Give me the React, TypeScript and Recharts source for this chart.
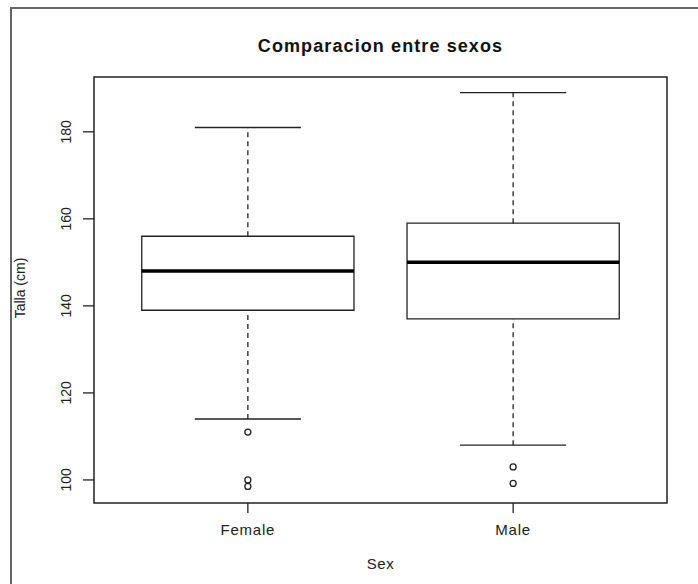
import React from "react";
import { ComposedChart, XAxis, YAxis, Scatter, ReferenceArea, ReferenceLine } from "recharts";

// --- data ---
const categories = ["Female", "Male"];
const whiskerLow = [114, 108];
const q1 = [139, 137];
const median = [148, 150];
const q3 = [156, 159];
const whiskerHigh = [181, 189];
const outliers = [
    [111, 100, 98.5],
    [103, 99.2],
];
const yTicks = [100, 120, 140, 160, 180];

const X_DOMAIN: [number, number] = [0.42, 2.58];
const Y_DOMAIN: [number, number] = [94.7, 192.6];
const BOX_HALF = 0.4;
const CAP_HALF = 0.2;
const INK = "#222";
const FONT = "'Liberation Sans', Arial, sans-serif";

const outlierPoints = outliers.flatMap((vals, i) => vals.map((v) => ({ x: i + 1, y: v })));

const OpenCircle = (props: any) => {
    const { cx, cy } = props;
    if (cx == null || cy == null) return null;
    return <circle cx={cx} cy={cy} r={3} fill="none" stroke={INK} strokeWidth={1.3} />;
};

const YTick = ({ x, y, payload }: any) => (
    <text
        transform={`translate(${x - 10},${y}) rotate(-90)`}
        textAnchor="middle"
        fontSize={14}
        fontFamily={FONT}
        fill={INK}
    >
        {payload.value}
    </text>
);

const XTick = ({ x, y, payload }: any) => (
    <text x={x} y={y + 20} textAnchor="middle" fontSize={15} fontFamily={FONT} fill={INK} letterSpacing={0.8}>
        {categories[payload.value - 1]}
    </text>
);

const App = () => {
    return (
        <div style={{ position: "absolute", left: 0, top: 0, width: 698, height: 584, overflow: "hidden", background: "#fff" }}>
            {/* outer device frame */}
            <div style={{ position: "absolute", left: 10, top: 7, width: 900, height: 900, borderLeft: "2px solid #666", borderTop: "2px solid #666" }} />
            <ComposedChart width={698} height={584} margin={{ top: 77, right: 31, bottom: 0, left: 0 }}>
                <XAxis
                    type="number"
                    dataKey="x"
                    domain={X_DOMAIN}
                    ticks={[1, 2]}
                    allowDataOverflow
                    axisLine={false}
                    tickLine={{ stroke: INK, strokeWidth: 1.3 }}
                    tickSize={10}
                    height={81}
                    tick={<XTick />}
                />
                <YAxis
                    type="number"
                    dataKey="y"
                    domain={Y_DOMAIN}
                    ticks={yTicks}
                    allowDataOverflow
                    axisLine={false}
                    tickLine={{ stroke: INK, strokeWidth: 1.3 }}
                    tickSize={11}
                    width={94}
                    tick={<YTick />}
                />
                {categories.map((c, i) => (
                    <ReferenceLine
                        key={`wl-${c}`}
                        segment={[{ x: i + 1, y: whiskerLow[i] }, { x: i + 1, y: q1[i] }]}
                        stroke={INK}
                        strokeWidth={1.3}
                        strokeDasharray="5 4"
                    />
                ))}
                {categories.map((c, i) => (
                    <ReferenceLine
                        key={`wh-${c}`}
                        segment={[{ x: i + 1, y: q3[i] }, { x: i + 1, y: whiskerHigh[i] }]}
                        stroke={INK}
                        strokeWidth={1.3}
                        strokeDasharray="5 4"
                    />
                ))}
                {categories.map((c, i) => (
                    <ReferenceLine
                        key={`cl-${c}`}
                        segment={[{ x: i + 1 - CAP_HALF, y: whiskerLow[i] }, { x: i + 1 + CAP_HALF, y: whiskerLow[i] }]}
                        stroke={INK}
                        strokeWidth={1.3}
                    />
                ))}
                {categories.map((c, i) => (
                    <ReferenceLine
                        key={`ch-${c}`}
                        segment={[{ x: i + 1 - CAP_HALF, y: whiskerHigh[i] }, { x: i + 1 + CAP_HALF, y: whiskerHigh[i] }]}
                        stroke={INK}
                        strokeWidth={1.3}
                    />
                ))}
                {categories.map((c, i) => (
                    <ReferenceArea
                        key={`box-${c}`}
                        x1={i + 1 - BOX_HALF}
                        x2={i + 1 + BOX_HALF}
                        y1={q1[i]}
                        y2={q3[i]}
                        fill="#fff"
                        fillOpacity={1}
                        stroke={INK}
                        strokeWidth={1.3}
                    />
                ))}
                {categories.map((c, i) => (
                    <ReferenceLine
                        key={`med-${c}`}
                        segment={[{ x: i + 1 - BOX_HALF, y: median[i] }, { x: i + 1 + BOX_HALF, y: median[i] }]}
                        stroke="#000"
                        strokeWidth={3.5}
                    />
                ))}
                {/* plot frame */}
                <ReferenceArea
                    x1={X_DOMAIN[0]}
                    x2={X_DOMAIN[1]}
                    y1={Y_DOMAIN[0]}
                    y2={Y_DOMAIN[1]}
                    fill="none"
                    stroke={INK}
                    strokeWidth={1.5}
                />
                <Scatter data={outlierPoints} dataKey="y" shape={<OpenCircle />} isAnimationActive={false} />
            </ComposedChart>
            <svg width={698} height={584} style={{ position: "absolute", left: 0, top: 0, pointerEvents: "none" }}>
                <text x={380.5} y={52} textAnchor="middle" fontSize={18} fontWeight="bold" fontFamily={FONT} fill="#111" letterSpacing={1.1}>
                    Comparacion entre sexos
                </text>
                <text x={380.5} y={569} textAnchor="middle" fontSize={15} fontFamily={FONT} fill={INK} letterSpacing={0.6}>
                    Sex
                </text>
                <text transform="translate(25,288) rotate(-90)" textAnchor="middle" fontSize={14} fontFamily={FONT} fill={INK}>
                    Talla (cm)
                </text>
            </svg>
        </div>
    );
};

export default App;
